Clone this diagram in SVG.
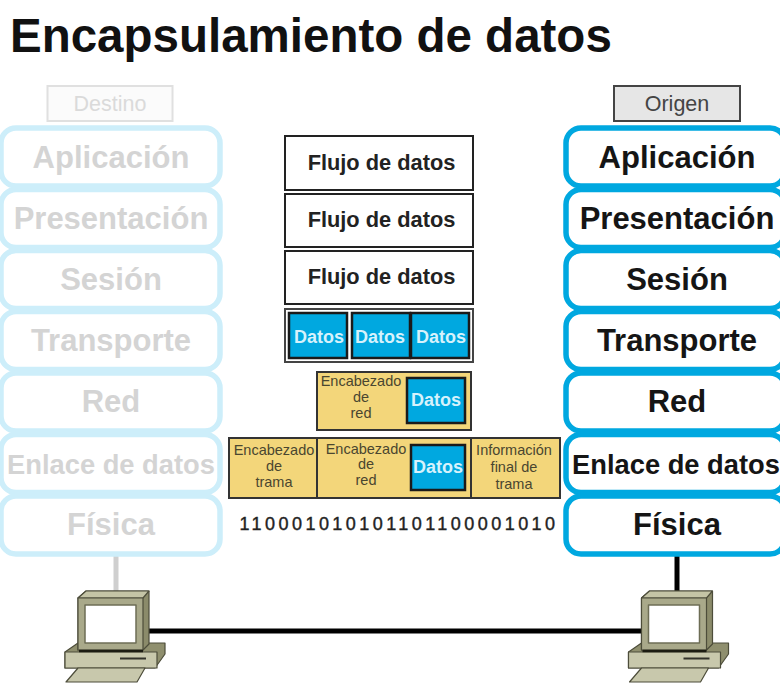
<svg xmlns="http://www.w3.org/2000/svg" xmlns:xlink="http://www.w3.org/1999/xlink" width="780" height="684" viewBox="0 0 780 684">
<style>
text{font-family:"Liberation Sans",Arial,sans-serif;text-anchor:middle}
.title{font-size:47.500px;font-weight:700;fill:#111;text-anchor:start}
.layer{fill:#fff;stroke-width:5.5}
.src .layer{stroke:#00a8e0}
.dst .layer{stroke:#cdeefa}
.lt{font-size:31px;font-weight:700}
.src .lt{fill:#151515}
.dst .lt{fill:#d4d4d4}
.flow{fill:#fff;stroke:#222;stroke-width:2}
.ft{font-size:21.800px;font-weight:700;fill:#222}
.blue{fill:#00a8e0;stroke:#1a1a1a;stroke-width:2.5}
.dt{font-size:18px;font-weight:700;fill:#d6f2fc}
.yel{fill:#f3d67a;stroke:#333;stroke-width:2}
.yt{font-size:14.500px;fill:#4a4630}
</style>
<defs>
<g id="pc" stroke="#4d4d3a" stroke-width="1.2" stroke-linejoin="round">
<polygon points="65,652 78,643 165,643 165,654 155,668 65,668" fill="#8f8f6e"/>
<polygon points="65,652 157,652 157,668 65,668" fill="#c8c8ac"/>
<polygon points="78,598 86,591 149,591 149,644 143,650 78,650" fill="#8b8b6a"/>
<polygon points="78,598 86,591 149,591 143,598" fill="#c4c4a6"/>
<rect x="78" y="598" width="65" height="52" fill="#a9a98a"/>
<rect x="85" y="605" width="51" height="38" fill="#fff" stroke="#6d6d55" stroke-width="1.5"/>
<line x1="79" y1="651" x2="143" y2="651" stroke="#1c1c12" stroke-width="2.5"/>
<line x1="120" y1="658.500" x2="146" y2="658.500" stroke="#33332a" stroke-width="2"/>
<polygon points="78,668 145,668 137,682 66,682" fill="#c8c8ac"/>
</g>
</defs>
<text class="title" x="10" y="52">Encapsulamiento de datos</text>
<g id="connectors">
<line x1="116" y1="556" x2="116" y2="592" stroke="#cfcfcf" stroke-width="5"/>
<line x1="677" y1="556" x2="677" y2="592" stroke="#000" stroke-width="5"/>
<line x1="149" y1="631" x2="642" y2="631" stroke="#000" stroke-width="5"/>
</g>
<g id="destino">
<rect x="47.500" y="86" width="125" height="35" fill="#fbfbfb" stroke="#e0e0e0" stroke-width="2"/>
<text x="110" y="111" font-size="21.500" fill="#dadada">Destino</text>
</g>
<g id="origen">
<rect x="614" y="86" width="126" height="35" fill="#e6e6e6" stroke="#444" stroke-width="2"/>
<text x="677" y="111" font-size="21.500" fill="#444">Origen</text>
</g>
<g id="dst-stack" class="dst">
<g id="dst-aplicacion"><rect class="layer" x="1" y="128" width="219" height="58" rx="15"/><text class="lt" x="111" y="168">Aplicación</text></g>
<g id="dst-presentacion"><rect class="layer" x="1" y="189.500" width="219" height="58" rx="15"/><text class="lt" x="111" y="229">Presentación</text></g>
<g id="dst-sesion"><rect class="layer" x="1" y="250.500" width="219" height="58" rx="15"/><text class="lt" x="111" y="290">Sesión</text></g>
<g id="dst-transporte"><rect class="layer" x="1" y="311.500" width="219" height="58" rx="15"/><text class="lt" x="111" y="351">Transporte</text></g>
<g id="dst-red"><rect class="layer" x="1" y="373" width="219" height="58" rx="15"/><text class="lt" x="111" y="412">Red</text></g>
<g id="dst-enlace"><rect class="layer" x="1" y="434.500" width="219" height="58" rx="15"/><text class="lt" x="111" y="474" style="font-size:27.300px">Enlace de datos</text></g>
<g id="dst-fisica"><rect class="layer" x="1" y="496" width="219" height="58" rx="15"/><text class="lt" x="111" y="535">Física</text></g>
</g>
<g id="src-stack" class="src">
<g id="src-aplicacion"><rect class="layer" x="566" y="128" width="219" height="58" rx="15"/><text class="lt" x="677" y="168">Aplicación</text></g>
<g id="src-presentacion"><rect class="layer" x="566" y="189.500" width="219" height="58" rx="15"/><text class="lt" x="677" y="229">Presentación</text></g>
<g id="src-sesion"><rect class="layer" x="566" y="250.500" width="219" height="58" rx="15"/><text class="lt" x="677" y="290">Sesión</text></g>
<g id="src-transporte"><rect class="layer" x="566" y="311.500" width="219" height="58" rx="15"/><text class="lt" x="677" y="351">Transporte</text></g>
<g id="src-red"><rect class="layer" x="566" y="373" width="219" height="58" rx="15"/><text class="lt" x="677" y="412">Red</text></g>
<g id="src-enlace"><rect class="layer" x="566" y="434.500" width="219" height="58" rx="15"/><text class="lt" x="676" y="474" style="font-size:27.300px">Enlace de datos</text></g>
<g id="src-fisica"><rect class="layer" x="566" y="496" width="219" height="58" rx="15"/><text class="lt" x="677" y="535">Física</text></g>
</g>
<g id="flujo-1"><rect class="flow" x="285" y="136" width="188" height="54"/><text class="ft" x="381.500" y="170">Flujo de datos</text></g>
<g id="flujo-2"><rect class="flow" x="285" y="194" width="188" height="53"/><text class="ft" x="381.500" y="227">Flujo de datos</text></g>
<g id="flujo-3"><rect class="flow" x="285" y="251" width="188" height="53"/><text class="ft" x="381.500" y="284">Flujo de datos</text></g>
<g id="segmentos">
<rect x="285" y="309" width="188" height="53" fill="#fff" stroke="#444" stroke-width="2"/>
<rect class="blue" x="289" y="313" width="58" height="45"/><text class="dt" x="319" y="343">Datos</text>
<rect class="blue" x="352" y="313" width="58" height="45"/><text class="dt" x="380" y="343">Datos</text>
<rect class="blue" x="411" y="313" width="58" height="45"/><text class="dt" x="441" y="343">Datos</text>
</g>
<g id="paquete">
<rect class="yel" x="317" y="372" width="154" height="58"/>
<text class="yt" x="361" y="386">Encabezado</text><text class="yt" x="361" y="402">de</text><text class="yt" x="361" y="418">red</text>
<rect class="blue" x="407" y="378" width="58" height="45"/><text class="dt" x="436" y="406">Datos</text>
</g>
<g id="trama">
<rect class="yel" x="229" y="438" width="331" height="60"/>
<line x1="317" y1="438" x2="317" y2="498" stroke="#333" stroke-width="2"/>
<line x1="471" y1="438" x2="471" y2="498" stroke="#333" stroke-width="2"/>
<text class="yt" x="274" y="455">Encabezado</text><text class="yt" x="274" y="471">de</text><text class="yt" x="274" y="487">trama</text>
<text class="yt" x="366" y="454">Encabezado</text><text class="yt" x="366" y="469">de</text><text class="yt" x="366" y="485">red</text>
<rect class="blue" x="411" y="445" width="54" height="45"/><text class="dt" x="438" y="473">Datos</text>
<text class="yt" x="514" y="455">Información</text><text class="yt" x="514" y="472">final de</text><text class="yt" x="514" y="489">trama</text>
</g>
<text id="bits" x="399" y="530" font-size="18" fill="#222" stroke="#222" stroke-width="0.4" style="letter-spacing:3.45px">110001010101101100001010</text>
<g id="pc-destino"><use href="#pc"/></g>
<g id="pc-origen"><use href="#pc" transform="translate(563.500 0)"/></g>
</svg>
